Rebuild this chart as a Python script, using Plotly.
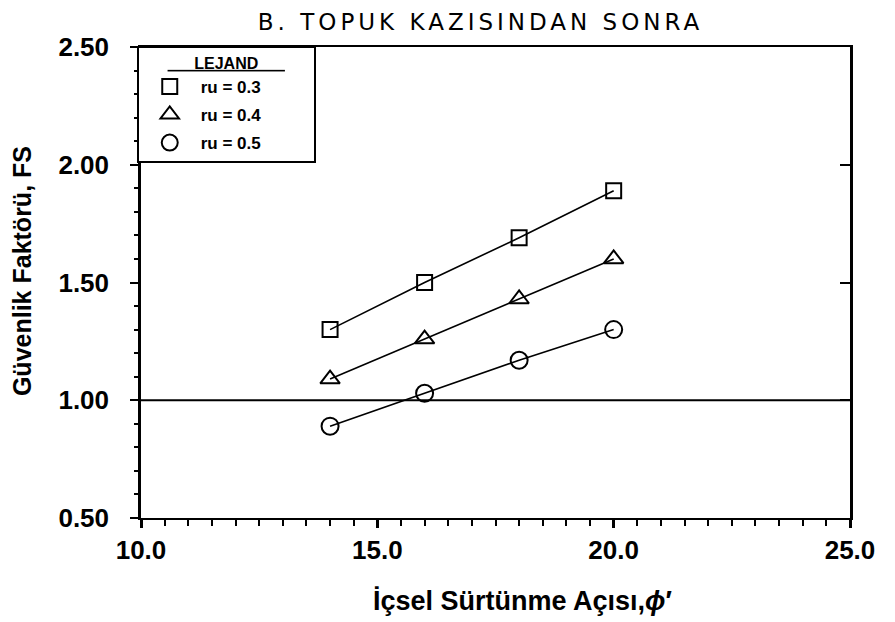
import plotly.graph_objects as go

# ---- data ----
phi = [14, 16, 18, 20]
fs_ru03 = [1.30, 1.50, 1.69, 1.89]
fs_ru04 = [1.09, 1.26, 1.43, 1.60]
fs_ru05 = [0.89, 1.03, 1.17, 1.30]
series_names = ["ru = 0.3", "ru = 0.4", "ru = 0.5"]
series_symbols = ["square-open", "triangle-up-open", "circle-open"]
FS_REF = 1.0
x_ticks = [10, 15, 20, 25]
y_ticks = [0.5, 1.0, 1.5, 2.0, 2.5]
title_text = "B. TOPUK KAZISINDAN SONRA"
x_title = "İçsel Sürtünme Açısı,<i>ϕ</i>′"
y_title = "Güvenlik Faktörü, FS"

NB = "\u00a0"
TICK_FONT = dict(family="Liberation Sans", size=26, color="black", weight="bold")
LAB_FONT_X = dict(family="Liberation Sans", size=27, color="black", weight="bold")
LAB_FONT_Y = dict(family="Liberation Sans", size=25, color="black", weight="bold")

fig = go.Figure()
sizes = [15, 17, 17]
for name, sym, vals, sz in zip(series_names, series_symbols, [fs_ru03, fs_ru04, fs_ru05], sizes):
    fig.add_trace(go.Scatter(x=phi, y=vals, mode="lines", line=dict(color="black", width=1.6),
                             legendgroup=name, showlegend=False, hoverinfo="skip"))
    fig.add_trace(go.Scatter(x=phi, y=vals, mode="markers", name=name + NB * 10, legendgroup=name,
                             marker=dict(symbol=sym, size=sz, color="black",
                                         line=dict(color="black", width=2))))

fig.add_hline(y=FS_REF, line=dict(color="black", width=1.8))

fig.update_layout(
    width=895, height=622,
    margin=dict(l=133, r=53, t=39, b=112),
    paper_bgcolor="white", plot_bgcolor="white",
    title=dict(text='<span style="letter-spacing:4px">' + title_text + '</span>',
               x=0.528, xanchor="center", y=0.977, yanchor="middle",
               font=dict(family="DejaVu Sans", size=23, color="black")),
    xaxis=dict(range=[10, 25], tickvals=x_ticks, ticktext=[f"{v:.1f}" for v in x_ticks],
               ticks="outside", ticklen=8, tickwidth=3, tickcolor="black",
               minor=dict(dtick=0.5, ticks="outside", ticklen=6, tickwidth=1.5, tickcolor="black"),
               showline=True, linecolor="black", linewidth=2, mirror=True,
               showgrid=False, zeroline=False, tickfont=TICK_FONT, ticklabelstandoff=0),
    yaxis=dict(range=[0.5, 2.5], tickvals=y_ticks, ticktext=[f"{v:.2f}" for v in y_ticks],
               ticks="outside", ticklen=8, tickwidth=2, tickcolor="black",
               minor=dict(dtick=0.1, ticks="outside", ticklen=4, tickwidth=1.5, tickcolor="black"),
               showline=True, linecolor="black", linewidth=2.5, mirror=True,
               showgrid=False, zeroline=False, tickfont=TICK_FONT, ticklabelstandoff=16),
    yaxis2=dict(range=[0.5, 2.5], overlaying="y", side="right", tickvals=[1.0, 1.5, 2.0],
                ticks="inside", ticklen=10, tickwidth=2, tickcolor="black",
                showticklabels=False, showgrid=False, zeroline=False, showline=False),
    legend=dict(x=-0.006, xanchor="left", y=1.002, yanchor="top",
                bgcolor="white", bordercolor="black", borderwidth=2,
                font=dict(family="Liberation Sans", size=17, color="black", weight="bold"),
                title=dict(text="<u>" + NB * 6 + "LEJAND" + NB * 6 + "</u>", side="top center",
                           font=dict(family="Liberation Sans", size=16, color="black", weight="bold")),
                tracegroupgap=3, itemwidth=52),
    showlegend=True,
    annotations=[
        dict(text=x_title, xref="paper", yref="paper", x=0.538, y=-0.176,
             xanchor="center", yanchor="middle", showarrow=False, font=LAB_FONT_X),
        dict(text=y_title, xref="paper", yref="paper", x=-0.168, y=0.524,
             xanchor="center", yanchor="middle", textangle=-90, showarrow=False, font=LAB_FONT_Y),
    ],
)
fig.add_trace(go.Scatter(x=[], y=[], yaxis="y2", showlegend=False))

fig.write_html("out.html")
